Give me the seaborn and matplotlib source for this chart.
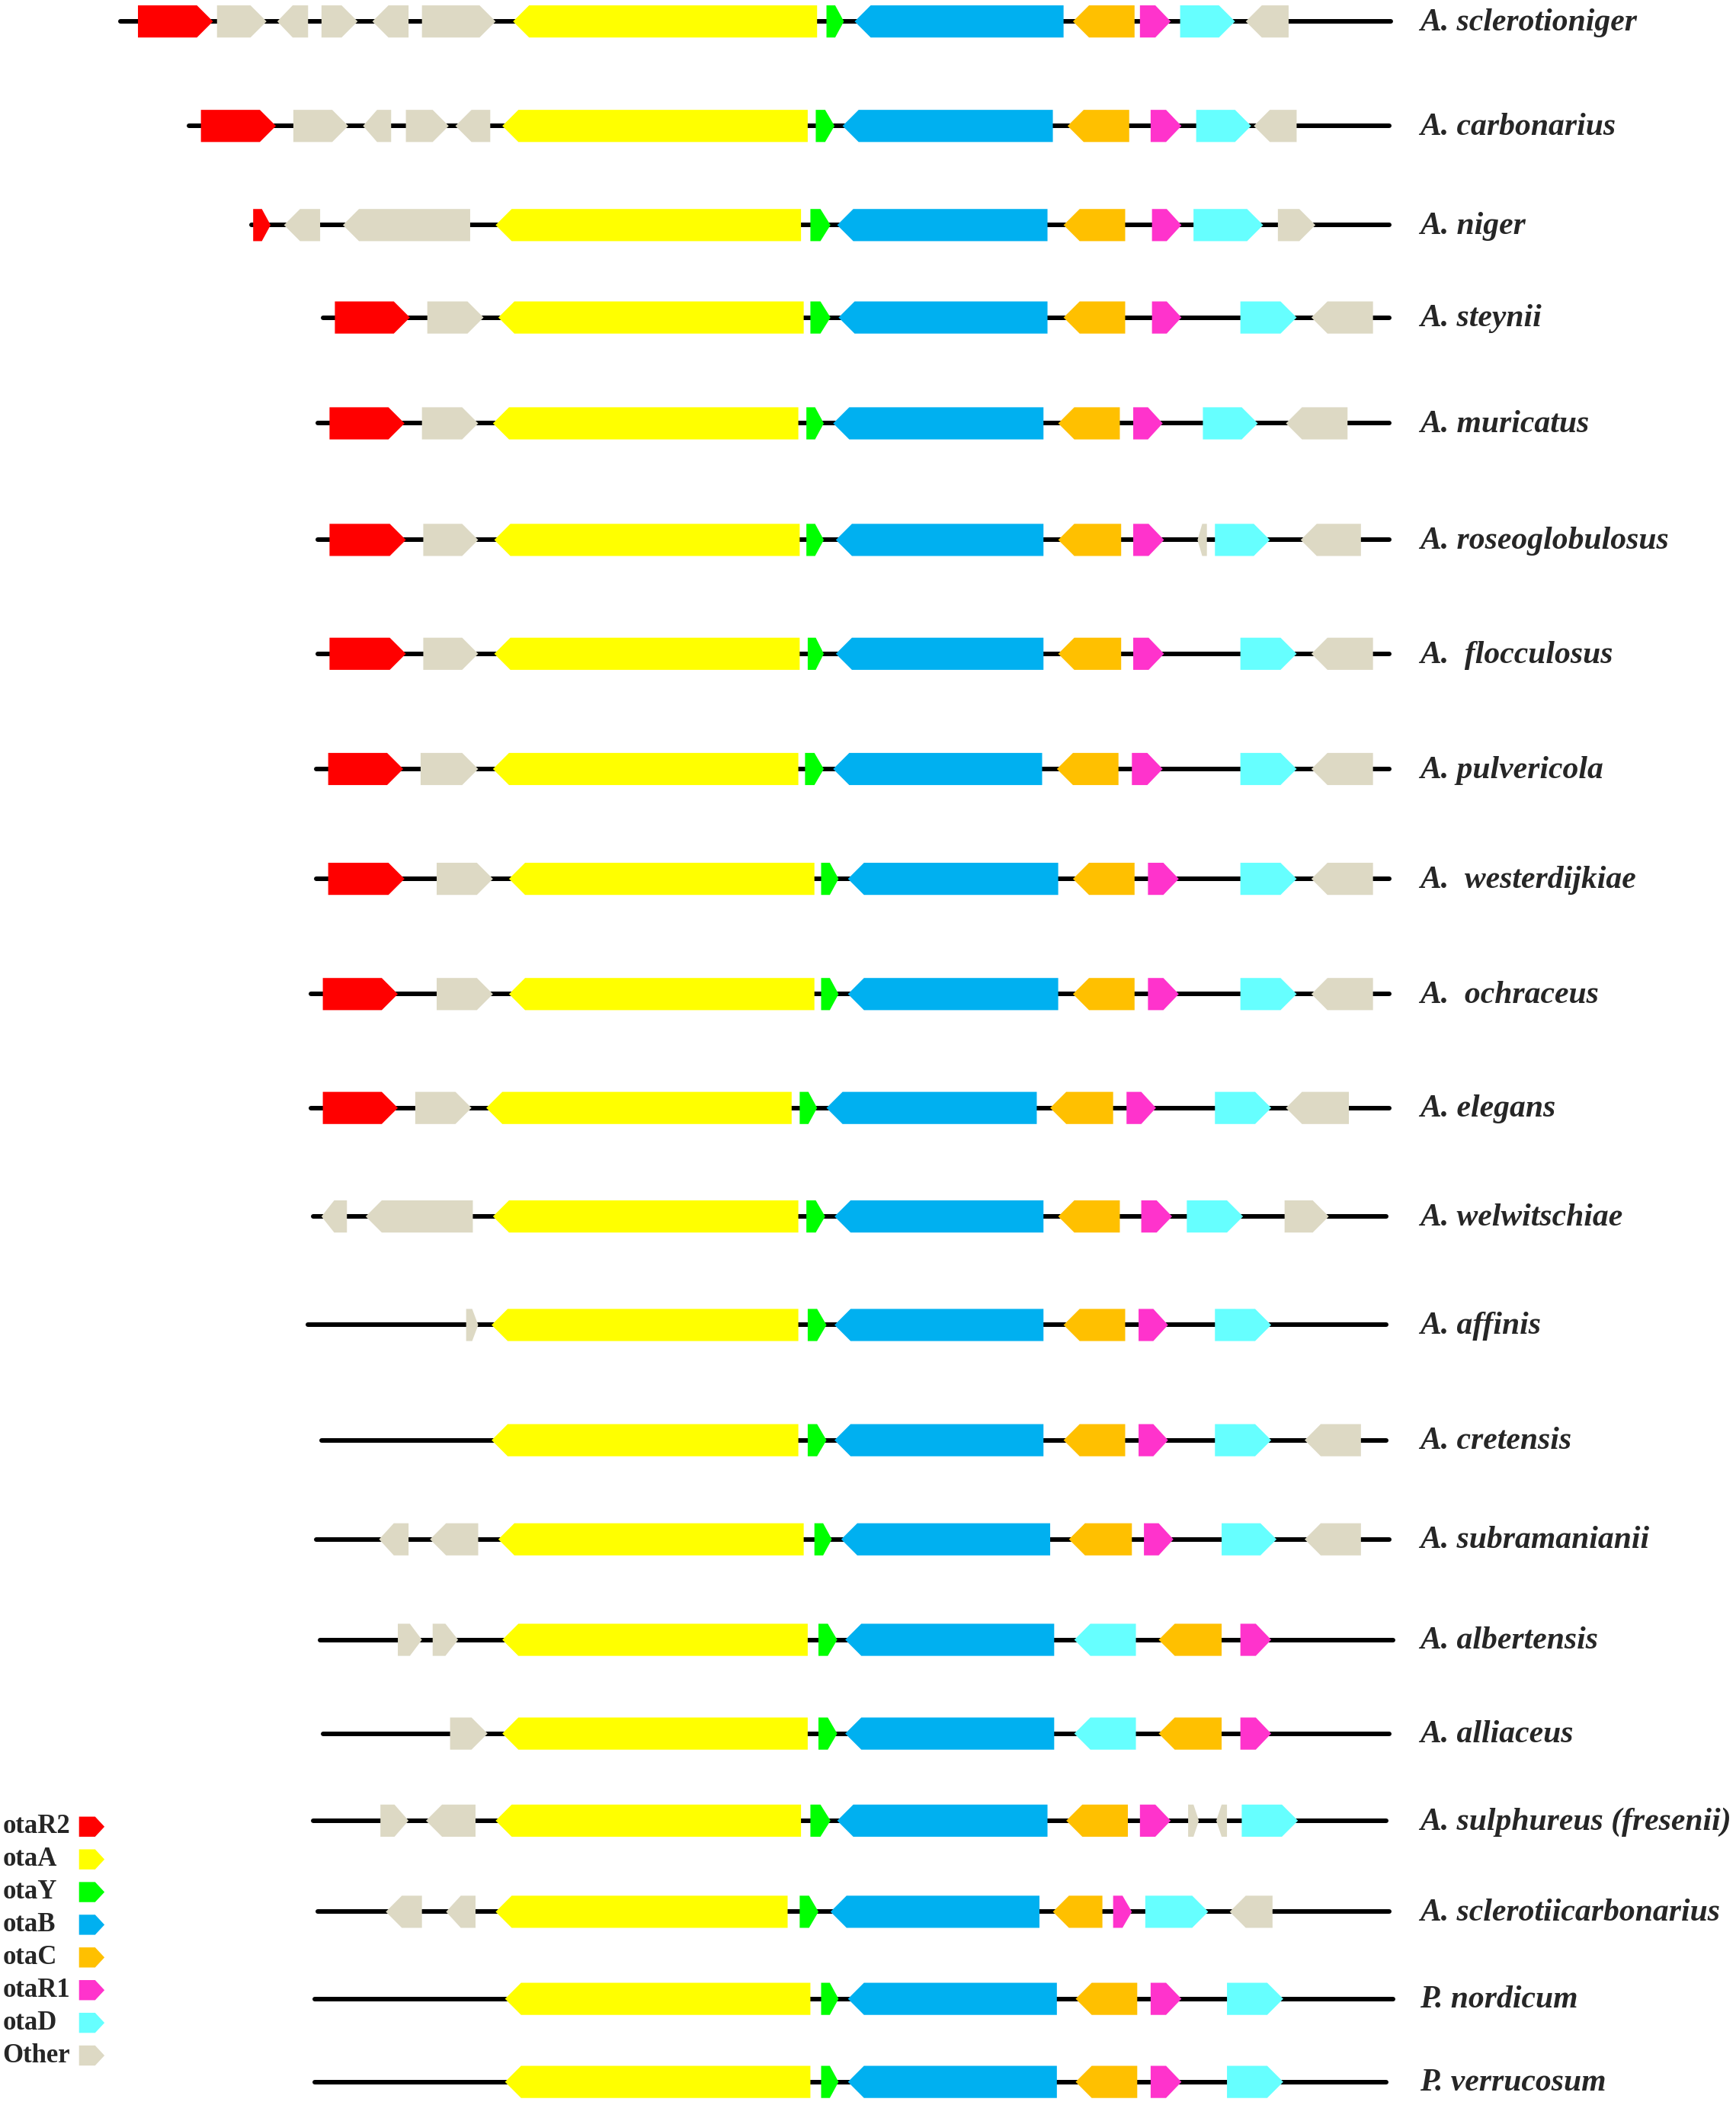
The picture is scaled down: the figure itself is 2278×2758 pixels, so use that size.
"""Ochratoxin (ota) gene cluster organisation across Aspergillus / Penicillium species."""

import matplotlib

matplotlib.use("Agg")
import matplotlib.pyplot as plt
import pandas as pd
import seaborn as sns
from matplotlib.patches import Polygon

sns.set_theme(style="white")
plt.rcParams["font.family"] = ["Liberation Serif", "DejaVu Serif"]

# --- data (positions in relative map units) ---
species = [
    "A. sclerotioniger", "A. carbonarius", "A. niger", "A. steynii",
    "A. muricatus", "A. roseoglobulosus", "A.  flocculosus", "A. pulvericola",
    "A.  westerdijkiae", "A.  ochraceus", "A. elegans", "A. welwitschiae",
    "A. affinis", "A. cretensis", "A. subramanianii", "A. albertensis",
    "A. alliaceus", "A. sulphureus (fresenii)", "A. sclerotiicarbonarius",
    "P. nordicum", "P. verrucosum",
]
contig_start = [90, 141, 188, 241, 237, 237, 237, 236, 236, 232, 232,
                234, 230, 240, 236, 239, 241, 234, 237, 235, 235]
contig_end = [1038, 1037, 1037, 1037, 1037, 1037, 1037, 1037, 1037, 1037, 1037,
              1035, 1035, 1035, 1037, 1040, 1037, 1035, 1037, 1040, 1035]

# (gene, start, end, strand)
genes = [
    [("otaR2", 103, 159, 1), ("Other", 162, 199, 1), ("Other", 207, 230, -1),
     ("Other", 240, 267, 1), ("Other", 278, 305, -1), ("Other", 315, 370, 1),
     ("otaA", 383, 610, -1), ("otaY", 617, 630, 1), ("otaB", 638, 794, -1),
     ("otaC", 801, 847, -1), ("otaR1", 851, 874, 1), ("otaD", 881, 922, 1),
     ("Other", 930, 962, -1)],
    [("otaR2", 150, 206, 1), ("Other", 219, 260, 1), ("Other", 271, 292, -1),
     ("Other", 303, 335, 1), ("Other", 340, 366, -1), ("otaA", 375, 603, -1),
     ("otaY", 609, 623, 1), ("otaB", 629, 786, -1), ("otaC", 797, 843, -1),
     ("otaR1", 859, 882, 1), ("otaD", 893, 934, 1), ("Other", 936, 968, -1)],
    [("otaR2", 189, 202, 1), ("Other", 212, 239, -1), ("Other", 256, 351, -1),
     ("otaA", 370, 598, -1), ("otaY", 605, 620, 1), ("otaB", 625, 782, -1),
     ("otaC", 794, 840, -1), ("otaR1", 860, 882, 1), ("otaD", 891, 943, 1),
     ("Other", 954, 982, 1)],
    [("otaR2", 250, 306, 1), ("Other", 319, 361, 1), ("otaA", 372, 600, -1),
     ("otaY", 605, 620, 1), ("otaB", 626, 782, -1), ("otaC", 794, 840, -1),
     ("otaR1", 860, 882, 1), ("otaD", 926, 968, 1), ("Other", 979, 1025, -1)],
    [("otaR2", 246, 302, 1), ("Other", 315, 357, 1), ("otaA", 368, 596, -1),
     ("otaY", 602, 615, 1), ("otaB", 622, 779, -1), ("otaC", 790, 836, -1),
     ("otaR1", 846, 868, 1), ("otaD", 898, 939, 1), ("Other", 960, 1006, -1)],
    [("otaR2", 246, 303, 1), ("Other", 316, 357, 1), ("otaA", 369, 597, -1),
     ("otaY", 602, 615, 1), ("otaB", 624, 779, -1), ("otaC", 790, 837, -1),
     ("otaR1", 846, 869, 1), ("Other", 894, 901, -1), ("otaD", 907, 948, 1),
     ("Other", 971, 1016, -1)],
    [("otaR2", 246, 303, 1), ("Other", 316, 357, 1), ("otaA", 369, 597, -1),
     ("otaY", 603, 615, 1), ("otaB", 624, 779, -1), ("otaC", 790, 837, -1),
     ("otaR1", 846, 869, 1), ("otaD", 926, 968, 1), ("Other", 979, 1025, -1)],
    [("otaR2", 245, 301, 1), ("Other", 314, 357, 1), ("otaA", 368, 596, -1),
     ("otaY", 601, 615, 1), ("otaB", 622, 778, -1), ("otaC", 789, 835, -1),
     ("otaR1", 845, 868, 1), ("otaD", 926, 968, 1), ("Other", 979, 1025, -1)],
    [("otaR2", 245, 302, 1), ("Other", 326, 368, 1), ("otaA", 380, 608, -1),
     ("otaY", 613, 626, 1), ("otaB", 633, 790, -1), ("otaC", 801, 847, -1),
     ("otaR1", 857, 880, 1), ("otaD", 926, 968, 1), ("Other", 979, 1025, -1)],
    [("otaR2", 241, 297, 1), ("Other", 326, 368, 1), ("otaA", 380, 608, -1),
     ("otaY", 613, 626, 1), ("otaB", 633, 790, -1), ("otaC", 801, 847, -1),
     ("otaR1", 857, 880, 1), ("otaD", 926, 968, 1), ("Other", 979, 1025, -1)],
    [("otaR2", 241, 297, 1), ("Other", 310, 352, 1), ("otaA", 363, 591, -1),
     ("otaY", 597, 610, 1), ("otaB", 617, 774, -1), ("otaC", 784, 831, -1),
     ("otaR1", 841, 863, 1), ("otaD", 907, 949, 1), ("Other", 960, 1007, -1)],
    [("Other", 240, 259, -1), ("Other", 273, 353, -1), ("otaA", 368, 596, -1),
     ("otaY", 602, 616, 1), ("otaB", 623, 779, -1), ("otaC", 790, 836, -1),
     ("otaR1", 852, 875, 1), ("otaD", 886, 928, 1), ("Other", 959, 992, 1)],
    [("Other", 348, 357, 1), ("otaA", 367, 596, -1), ("otaY", 603, 617, 1),
     ("otaB", 623, 779, -1), ("otaC", 794, 840, -1), ("otaR1", 850, 872, 1),
     ("otaD", 907, 949, 1)],
    [("otaA", 367, 596, -1), ("otaY", 603, 617, 1), ("otaB", 623, 779, -1),
     ("otaC", 794, 840, -1), ("otaR1", 850, 872, 1), ("otaD", 907, 949, 1),
     ("Other", 974, 1016, -1)],
    [("Other", 283, 305, -1), ("Other", 321, 357, -1), ("otaA", 372, 600, -1),
     ("otaY", 608, 621, 1), ("otaB", 628, 784, -1), ("otaC", 798, 845, -1),
     ("otaR1", 854, 876, 1), ("otaD", 912, 953, 1), ("Other", 974, 1016, -1)],
    [("Other", 297, 315, 1), ("Other", 323, 342, 1), ("otaA", 375, 603, -1),
     ("otaY", 611, 625, 1), ("otaB", 631, 787, -1), ("otaD", 802, 848, -1),
     ("otaC", 865, 912, -1), ("otaR1", 926, 949, 1)],
    [("Other", 336, 364, 1), ("otaA", 375, 603, -1), ("otaY", 611, 625, 1),
     ("otaB", 631, 787, -1), ("otaD", 802, 848, -1), ("otaC", 865, 912, -1),
     ("otaR1", 926, 949, 1)],
    [("Other", 284, 305, 1), ("Other", 318, 355, -1), ("otaA", 370, 598, -1),
     ("otaY", 605, 620, 1), ("otaB", 625, 782, -1), ("otaC", 796, 842, -1),
     ("otaR1", 851, 874, 1), ("Other", 887, 895, 1), ("Other", 908, 916, -1),
     ("otaD", 927, 969, 1)],
    [("Other", 288, 315, -1), ("Other", 333, 355, -1), ("otaA", 370, 588, -1),
     ("otaY", 597, 611, 1), ("otaB", 620, 776, -1), ("otaC", 786, 823, -1),
     ("otaR1", 831, 845, 1), ("otaD", 855, 902, 1), ("Other", 918, 950, -1)],
    [("otaA", 377, 605, -1), ("otaY", 613, 626, 1), ("otaB", 633, 789, -1),
     ("otaC", 803, 849, -1), ("otaR1", 859, 882, 1), ("otaD", 916, 958, 1)],
    [("otaA", 377, 605, -1), ("otaY", 613, 626, 1), ("otaB", 633, 789, -1),
     ("otaC", 803, 849, -1), ("otaR1", 859, 882, 1), ("otaD", 916, 958, 1)],
]
legend_genes = ["otaR2", "otaA", "otaY", "otaB", "otaC", "otaR1", "otaD", "Other"]

# --- layout / style ---
gene_colors = {
    "otaR2": "#FF0000", "otaA": "#FFFF00", "otaY": "#00FF00", "otaB": "#00B0F0",
    "otaC": "#FFC000", "otaR1": "#FF33CC", "otaD": "#66FFFF", "Other": "#DDD9C4",
}
row_y = [16, 94, 168, 237, 316, 403, 488, 574, 656, 742, 827,
         908, 989, 1075, 1149, 1224, 1294, 1359, 1427, 1492, 1554]
GENE_H = 24
TIP = 12
LABEL_X = 1060
LEG_Y0, LEG_DY = 1363.5, 24.4


def draw_gene(ax, x0, x1, yc, h, strand, color, tip_max=TIP):
    tip = min(tip_max, (x1 - x0) / 2)
    top, bot = yc - h / 2, yc + h / 2
    if strand > 0:
        pts = [(x0, top), (x1 - tip, top), (x1, yc), (x1 - tip, bot), (x0, bot)]
    else:
        pts = [(x1, top), (x0 + tip, top), (x0, yc), (x0 + tip, bot), (x1, bot)]
    ax.add_patch(Polygon(pts, closed=True, facecolor=color, edgecolor="none",
                         zorder=3))


def main() -> None:
    fig = plt.figure(figsize=(22.78, 27.58), dpi=100)
    ax = fig.add_axes([0, 0, 1, 1])

    # contig backbones
    backbone = pd.DataFrame({
        "species": [s for s in species for _ in range(2)],
        "x": [v for pair in zip(contig_start, contig_end) for v in pair],
        "y": [y for y in row_y for _ in range(2)],
    })
    sns.lineplot(data=backbone, x="x", y="y", units="species", estimator=None,
                 sort=False, color="black", linewidth=4.3, ax=ax, legend=False,
                 zorder=1)
    for line in ax.lines:
        line.set_solid_capstyle("round")

    # genes + labels
    for name, yc, row in zip(species, row_y, genes):
        for gene, x0, x1, strand in row:
            draw_gene(ax, x0, x1, yc, GENE_H, strand, gene_colors[gene])
        ax.text(LABEL_X, yc + 1, name, fontsize=30, fontweight="bold",
                fontstyle="italic", ha="left", va="center")

    # legend
    for i, gene in enumerate(legend_genes):
        yc = LEG_Y0 + i * LEG_DY
        ax.text(2, yc, gene, fontsize=25, fontweight="bold", ha="left",
                va="center")
        draw_gene(ax, 59, 78, yc, 15, 1, gene_colors[gene], tip_max=7)

    ax.set_xlim(0, 1296)
    ax.set_ylim(1569, 0)
    ax.axis("off")
    fig.savefig("out.png", dpi=100, facecolor="white")
    plt.close(fig)


if __name__ == "__main__":
    main()
